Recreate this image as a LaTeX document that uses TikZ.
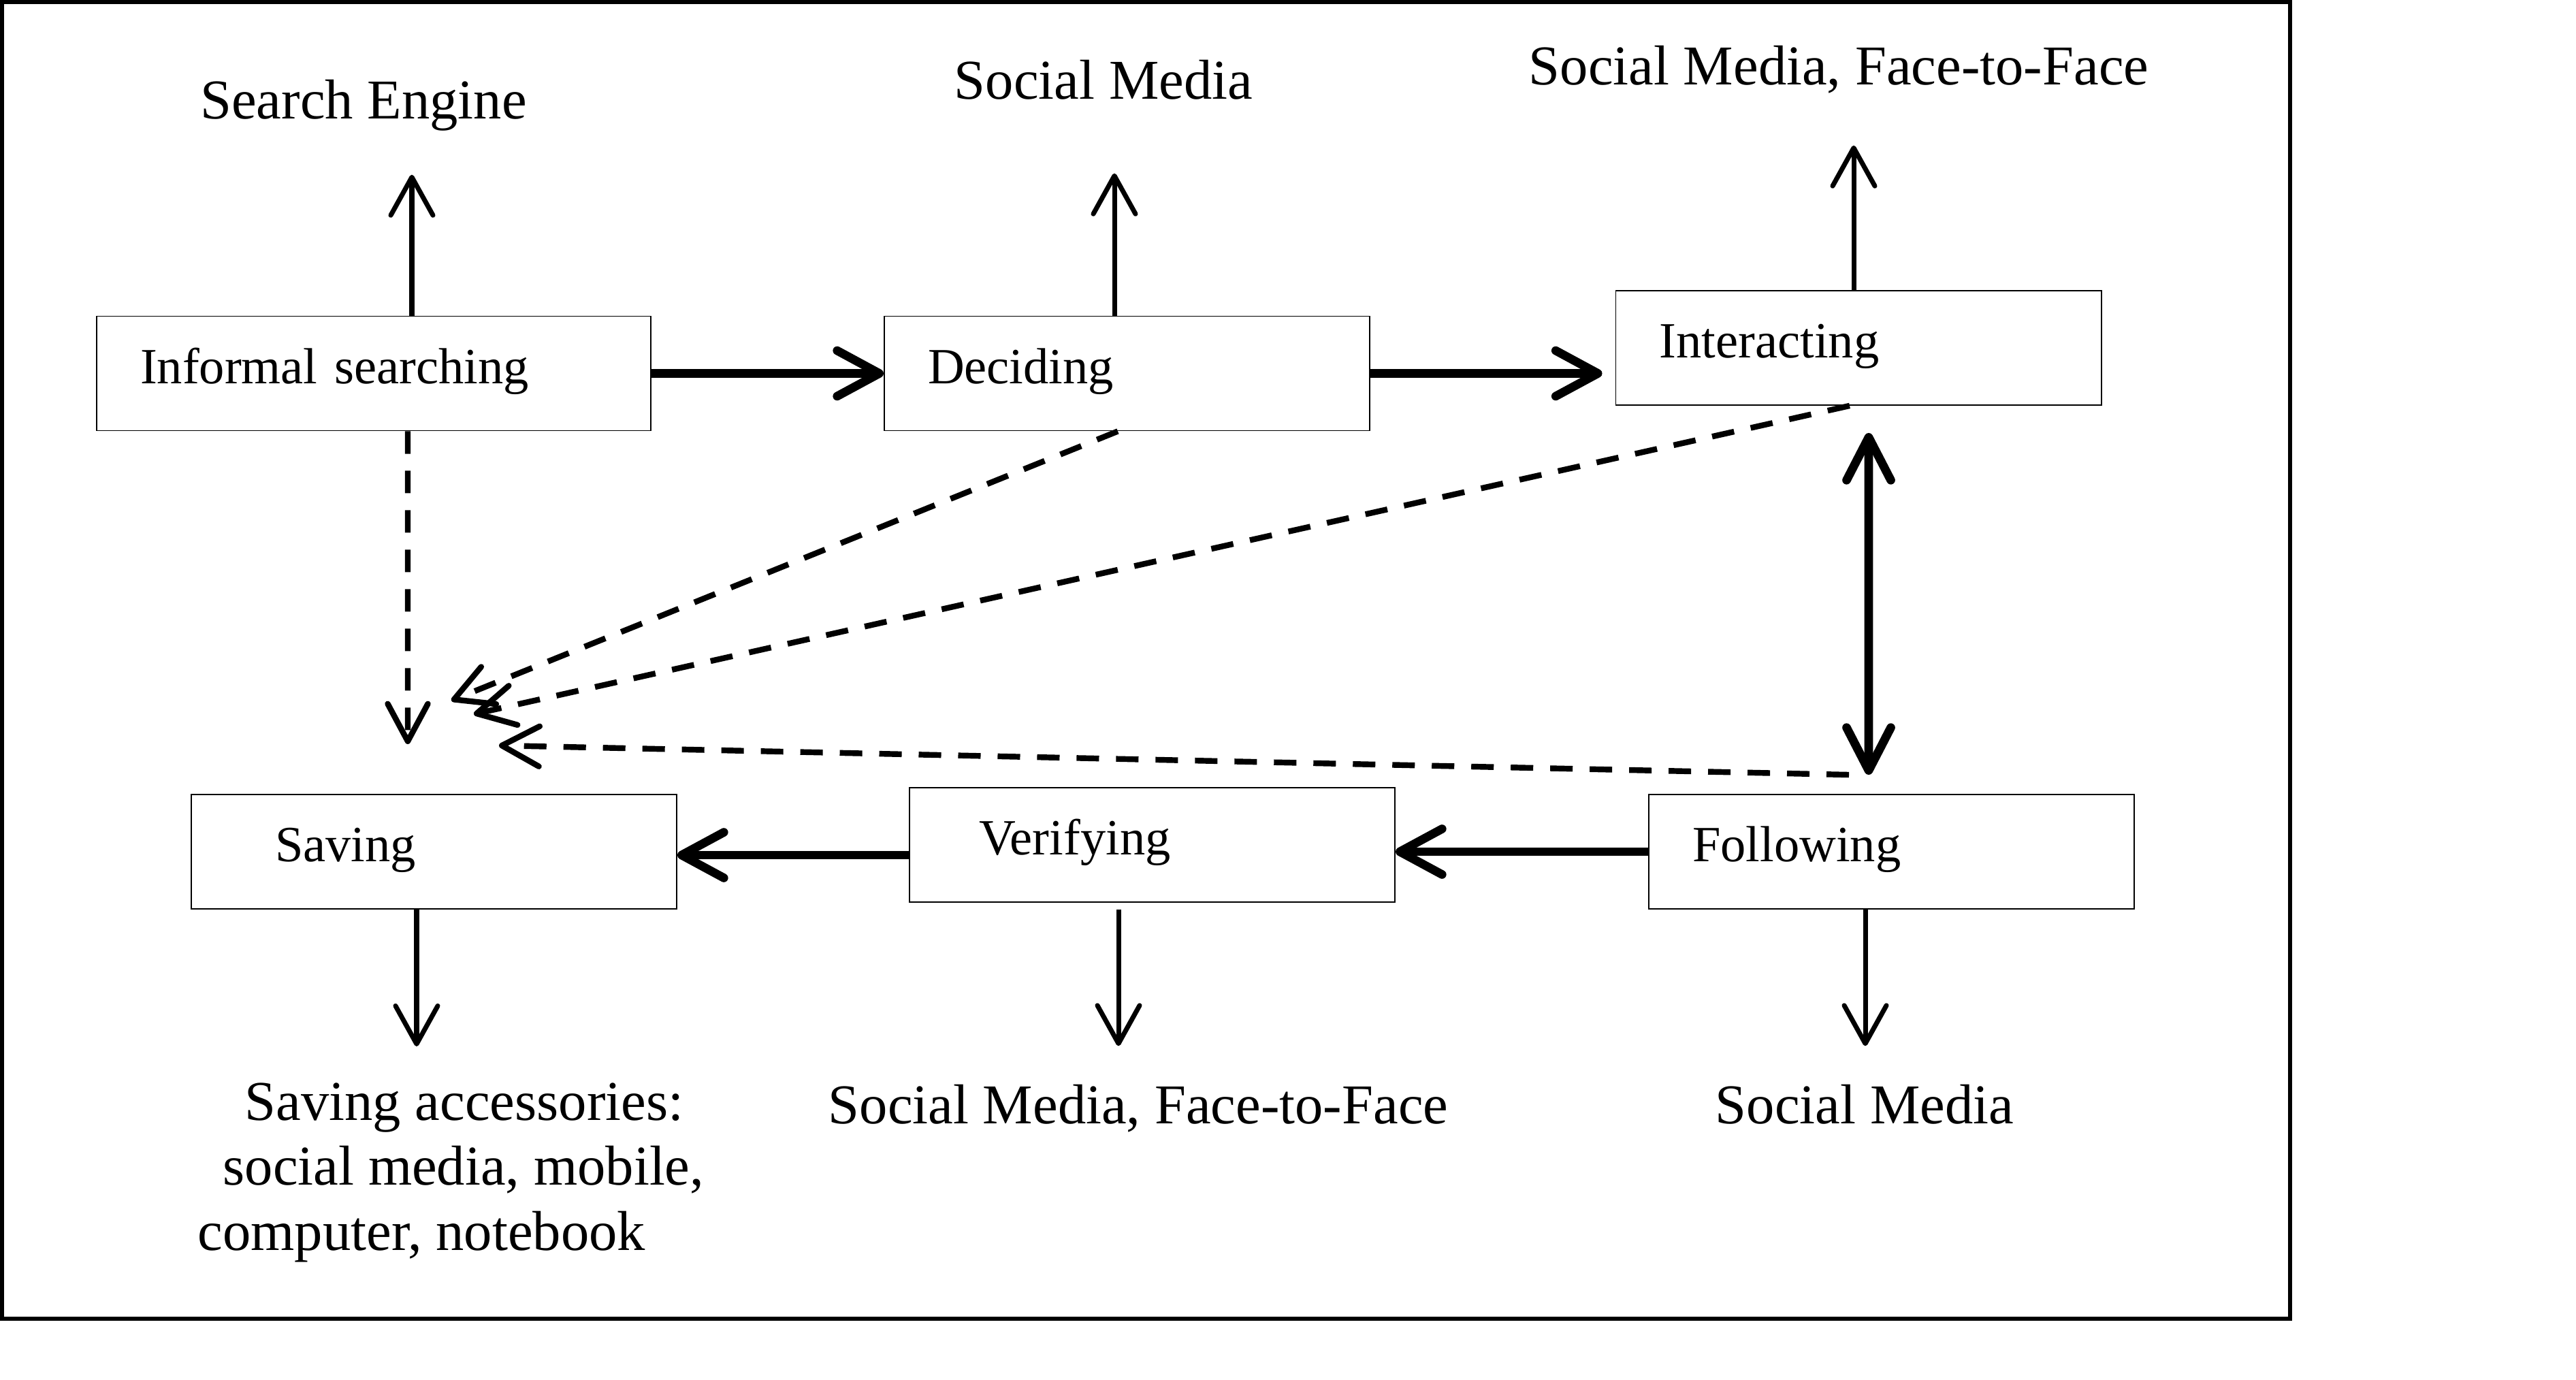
\documentclass[tikz,border=0pt]{standalone}
\usepackage{fontspec}
\setmainfont{Liberation Serif}
\usetikzlibrary{positioning,calc,arrows.meta}

\begin{document}
\begin{tikzpicture}[
    font=\fontsize{23.5pt}{27.2pt}\selectfont,
    stage/.style={draw, line width=0.55pt, minimum height=1.68cm, text width=5.85cm,
        inner xsep=0.64cm, align=left, text height=14.1pt, text depth=5.6pt,
        font=\fontsize{21.2pt}{25pt}\selectfont},
    lbl/.style={inner sep=0pt, text height=16.2pt, text depth=0pt, anchor=base},
    outarrow/.style={line width=2pt, -{Straight Barb[length=5.6mm,width=6.2mm,round]}},
    mainarrow/.style={line width=3.6pt, -{Straight Barb[length=6.2mm,width=6.7mm,round]}},
    bothway/.style={line width=3.6pt, {Straight Barb[length=6.3mm,width=6.5mm,round]}-{Straight Barb[length=6.3mm,width=6.5mm,round]}},
    backarrow/.style={line width=2.4pt, dash pattern=on 9.4pt off 7.1pt, -{Straight Barb[length=5.5mm,width=5.9mm,round]}}]
    \useasboundingbox (0,0) rectangle (37.84,-20.27);
    \draw[line width=1.7pt] (0.03,-0.03) rectangle (33.64,-19.37);

    % Stages
    \node[stage, text width=6.86cm] (inf) at (5.49,-5.485) {Informal searching};
    \node[stage] (dec) at (16.555,-5.485) {Deciding};
    \node[stage] (int) at (27.30,-5.11) {Interacting};
    \node[stage] (sav) at (6.375,-12.51) {\hspace*{0.59cm}Saving};
    \node[stage] (ver) at (16.925,-12.41) {\hspace*{0.38cm}Verifying};
    \node[stage] (fol) at (27.785,-12.51) {Following};

    % Media
    \node[lbl] (se) at (5.34,-1.75) {Search Engine};
    \node[lbl] (sm1) at (16.21,-1.46) {Social Media};
    \node[lbl] (sm2) at (27.01,-1.25) {Social Media, Face-to-Face};
    \node[lbl] (sm3) at (16.72,-16.50) {Social Media, Face-to-Face};
    \node[lbl] (sm4) at (27.39,-16.50) {Social Media};
    \node[inner sep=0pt, align=left, anchor=north west] (sa) at (2.90,-15.90)
        {\hspace*{0.69cm}Saving accessories:\\\hspace*{0.37cm}social media, mobile,\\computer, notebook};

    % Stage to media
    \coordinate (inf-up) at ($(inf.north)+(0.56,0)$);
    \coordinate (dec-up) at ($(dec.north)+(-0.185,0)$);
    \coordinate (int-up) at ($(int.north)+(-0.07,0)$);
    \coordinate (sav-dn) at ($(sav.south)+(-0.255,0)$);
    \coordinate (ver-dn) at ($(ver.south)+(-0.495,-0.10)$);
    \coordinate (fol-dn) at ($(fol.south)+(-0.385,0)$);
    \draw[outarrow, shorten >=0.81cm] (inf-up) -- (inf-up |- se.south);
    \draw[outarrow, shorten >=1.08cm] (dec-up) -- (dec-up |- sm1.south);
    \draw[outarrow, shorten >=0.88cm] (int-up) -- (int-up |- sm2.south);
    \draw[outarrow, shorten >=0.53cm] (sav-dn) -- (sav-dn |- sa.north);
    \draw[outarrow, shorten >=0.56cm] (ver-dn) -- (ver-dn |- sm3.north);
    \draw[outarrow, shorten >=0.56cm] (fol-dn) -- (fol-dn |- sm4.north);

    % Main flow
    \coordinate (ver-l) at ($(ver.west)+(0,-0.15)$);
    \draw[mainarrow] (inf.east) -- (dec.west);
    \draw[mainarrow, shorten >=0.19cm] (dec.east) -- (dec.east -| int.west);
    \draw[mainarrow] (fol.west) -- (fol.west -| ver.east);
    \draw[mainarrow] (ver-l) -- (ver-l -| sav.east);
    \draw[bothway] ($(int.south)+(0.15,-0.40)$) -- ($(fol.north)+(-0.335,0.28)$);

    % Back to saving
    \coordinate (sv-a) at (5.99,-10.93);
    \coordinate (sv-b) at (6.63,-10.29);
    \coordinate (sv-c) at (6.96,-10.49);
    \coordinate (sv-d) at (7.33,-10.95);
    \draw[backarrow] ($(inf.south)+(0.5,0)$) -- (sv-a);
    \draw[backarrow] ($(dec.south)+(-0.135,0)$) -- (sv-b);
    \draw[backarrow] ($(int.south)+(-0.13,0)$) -- (sv-c);
    \draw[backarrow] ($(fol.north)+(-0.625,0.28)$) -- (sv-d);
\end{tikzpicture}
\end{document}
